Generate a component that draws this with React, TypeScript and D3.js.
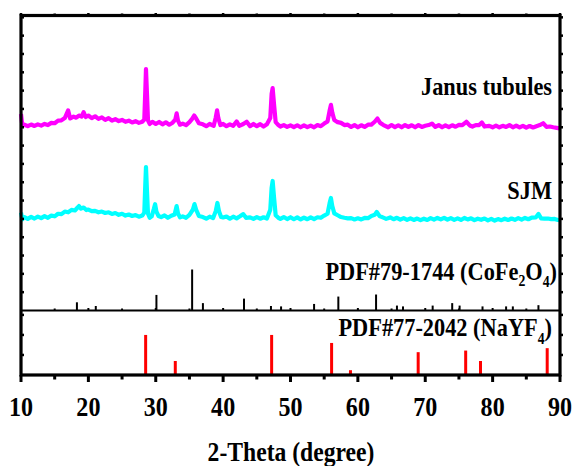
import React from 'react';
import * as d3 from 'd3';

// 2-theta, counts (Janus tubules sample)
const janusData: [number, number][] = [
  [10.0, 172], [10.2, 108], [10.5, 114], [11, 106], [11.5, 115], [12, 107], [12.5, 116], [13, 109], [13.5, 118], [14, 112],
  [14.5, 124], [15, 122], [15.5, 136], [16, 138], [16.5, 150], [17.0, 192], [17.3, 148], [17.8, 158], [18.2, 152], [18.6, 164],
  [19.0, 158], [19.3, 182], [19.6, 156], [20, 164], [20.5, 150], [21, 160], [21.5, 146], [22, 154], [22.5, 140], [23, 150],
  [23.5, 136], [24, 144], [24.5, 134], [25, 140], [25.5, 130], [26, 136], [26.5, 126], [27, 133], [27.5, 124], [28, 130],
  [28.3, 142], [28.45, 300], [28.55, 418], [28.7, 280], [28.85, 138], [29.1, 118], [29.5, 130], [30, 118], [30.5, 129], [31, 116],
  [31.5, 127], [32, 114], [32.5, 125], [32.9, 142], [33.1, 176], [33.3, 136], [33.6, 114], [34, 120], [34.5, 112], [35, 128],
  [35.4, 146], [35.7, 164], [36.0, 148], [36.4, 122], [37, 116], [37.5, 106], [38, 118], [38.6, 108], [38.9, 152], [39.1, 192],
  [39.3, 148], [39.6, 112], [40, 118], [40.5, 106], [41, 116], [41.5, 108], [42, 132], [42.4, 108], [43, 118], [43.5, 130],
  [44, 106], [44.5, 118], [45, 106], [45.5, 117], [46, 104], [46.5, 116], [47.0, 150], [47.2, 282], [47.35, 314], [47.55, 228],
  [47.8, 128], [48.2, 112], [48.5, 104], [49, 112], [49.5, 102], [50, 110], [50.5, 101], [51, 111], [51.5, 100], [52, 110],
  [52.5, 101], [53, 109], [53.5, 100], [54, 112], [54.5, 106], [55, 120], [55.5, 132], [55.8, 190], [56.0, 222], [56.2, 180],
  [56.5, 140], [57, 128], [57.5, 124], [58, 112], [58.5, 114], [59, 102], [59.5, 112], [60, 100], [60.5, 111], [61, 102],
  [61.5, 114], [62, 114], [62.5, 130], [62.9, 148], [63.3, 124], [63.8, 112], [64.5, 100], [65, 112], [65.5, 101], [66, 111],
  [66.5, 100], [67, 112], [67.5, 102], [68, 111], [68.5, 100], [69, 112], [69.5, 102], [70, 108], [70.5, 112], [71, 120],
  [71.5, 102], [72, 112], [72.5, 100], [73, 110], [73.5, 101], [74, 111], [74.5, 103], [75, 113], [75.5, 112], [76.1, 130],
  [76.6, 110], [77, 104], [77.5, 112], [78, 112], [78.4, 126], [78.8, 104], [79.5, 108], [80, 100], [80.5, 109], [81, 100],
  [81.5, 108], [82, 102], [82.5, 112], [83, 100], [83.5, 109], [84, 99], [84.5, 108], [85, 98], [85.5, 107], [86, 99],
  [86.5, 106], [87, 112], [87.5, 122], [88, 102], [88.5, 104], [89, 100], [89.5, 97], [90, 94],
];

// 2-theta, counts (SJM sample)
const sjmData: [number, number][] = [
  [10.0, 134], [10.2, 98], [10.5, 110], [11, 100], [11.5, 111], [12, 102], [12.5, 112], [13, 104], [13.5, 115], [14, 106],
  [14.5, 118], [15, 114], [15.5, 128], [16, 126], [16.5, 140], [17, 136], [17.5, 149], [18, 146], [18.3, 158], [18.6, 170],
  [18.9, 156], [19.3, 162], [19.7, 148], [20, 151], [20.5, 142], [21, 144], [21.5, 136], [22, 140], [22.5, 132], [23, 136],
  [23.5, 127], [24, 132], [24.5, 122], [25, 128], [25.5, 118], [26, 124], [26.5, 116], [27, 121], [27.5, 112], [28, 118],
  [28.3, 134], [28.45, 290], [28.55, 383], [28.7, 250], [28.85, 128], [29.1, 106], [29.4, 114], [29.7, 152], [29.9, 180], [30.1, 140],
  [30.4, 116], [30.8, 110], [31.3, 119], [31.8, 106], [32.3, 117], [32.8, 124], [33.1, 170], [33.3, 130], [33.6, 108], [34, 114],
  [34.5, 106], [35, 122], [35.5, 150], [35.75, 181], [36.0, 150], [36.4, 116], [37, 110], [37.5, 101], [38, 112], [38.5, 104],
  [38.9, 142], [39.15, 187], [39.4, 140], [39.7, 110], [40, 108], [40.5, 113], [41, 101], [41.5, 112], [42, 103], [42.5, 114],
  [43, 126], [43.4, 106], [44, 108], [44.5, 100], [45, 110], [45.5, 101], [46, 109], [46.5, 102], [47.0, 150], [47.2, 270],
  [47.35, 307], [47.55, 220], [47.8, 120], [48.2, 106], [48.5, 100], [49, 110], [49.5, 99], [50, 109], [50.5, 98], [51, 108],
  [51.5, 97], [52, 107], [52.5, 98], [53, 108], [53.5, 99], [54, 109], [54.5, 106], [55, 118], [55.5, 128], [55.8, 185],
  [56.0, 214], [56.2, 170], [56.5, 130], [57, 120], [57.5, 110], [58, 106], [58.5, 103], [59, 104], [59.5, 97], [60, 103],
  [60.5, 97], [61, 105], [61.5, 104], [62, 116], [62.5, 122], [62.8, 138], [63.2, 116], [63.7, 108], [64.2, 100], [64.8, 108],
  [65.3, 98], [65.8, 106], [66.3, 96], [66.8, 104], [67.3, 95], [67.8, 103], [68.3, 94], [68.8, 102], [69.3, 93], [69.8, 101],
  [70.3, 94], [70.8, 104], [71.3, 96], [71.8, 105], [72.3, 97], [72.8, 106], [73.3, 96], [73.8, 104], [74.3, 95], [74.8, 103],
  [75.3, 94], [75.8, 105], [76.3, 97], [76.8, 103], [77.3, 93], [77.8, 101], [78.3, 95], [78.8, 102], [79.3, 92], [79.8, 100],
  [80.3, 91], [80.8, 99], [81.3, 93], [81.8, 101], [82.3, 94], [82.8, 102], [83.3, 95], [83.8, 104], [84.3, 96], [84.8, 105],
  [85.3, 98], [85.8, 107], [86.4, 108], [86.8, 127], [87.2, 103], [87.7, 101], [88.2, 102], [88.7, 99], [89.2, 100], [89.7, 94],
  [90, 93],
];

// stacking offsets used in the plot (counts)
const janusOffset = 900;
const sjmOffset = 400;

// standard card: 2-theta, relative intensity
const cofePeaks: [number, number][] = [
  [18.3, 20], [21.1, 11], [30.1, 38], [35.4, 100], [37.0, 18], [43.1, 29], [47.1, 11], [48.6, 10], [53.5, 16],
  [57.1, 34], [62.7, 39], [65.8, 12], [66.7, 10], [71.1, 12], [74.0, 18], [75.1, 12], [78.5, 10], [82.0, 10],
  [83.0, 10], [86.8, 13],
];
const nayfPeaks: [number, number][] = [
  [28.5, 100], [32.9, 35], [47.2, 100], [56.1, 80], [58.9, 12], [68.95, 57], [76.0, 61], [78.2, 35], [88.1, 67],
];

const xTicks = [10, 20, 30, 40, 50, 60, 70, 80, 90];
const xMinorTicks = [15, 25, 35, 45, 55, 65, 75, 85];
const topYTicks = d3.range(100, 1700, 100);
const bottomYTicks = [50, 100, 150];

const FONT = "'Times New Roman', 'Liberation Serif', serif";
const SQ = 0.86; // horizontal squeeze of the original typesetting

export default function App() {
  const left = 21, right = 560, top = 15.5, split = 310.5, bottom = 375;

  const x = d3.scaleLinear().domain([10, 90]).range([left, right]);
  const yTop = d3.scaleLinear().domain([0, 1610]).range([split, top]);
  const yBottom = d3.scaleLinear().domain([0, 161]).range([bottom, split]);
  const yCard = d3.scaleLinear().domain([0, 100]).range([split, split - 41]);

  const line = (offset: number) =>
    d3.line<[number, number]>()
      .x(d => x(d[0]))
      .y(d => yTop(d[1] + offset));

  const label = (tx: number, ty: number, size: number, anchor: string, content: React.ReactNode) => (
    <text
      transform={`translate(${tx},${ty}) scale(${SQ},1)`}
      textAnchor={anchor}
      fontFamily={FONT}
      fontWeight="bold"
      fontSize={size}
      fill="#000"
    >
      {content}
    </text>
  );

  return (
    <svg width={574} height={466} style={{ position: 'absolute', left: 0, top: 0, background: '#fff' }}>
      {/* spectra */}
      <path d={line(janusOffset)(janusData) || ''} fill="none" stroke="#ff00ff" strokeWidth={4.2} strokeLinejoin="round" />
      <path d={line(sjmOffset)(sjmData) || ''} fill="none" stroke="#00ffff" strokeWidth={4.2} strokeLinejoin="round" />

      {/* CoFe2O4 card */}
      {cofePeaks.map((p, i) => (
        <line key={'c' + i} x1={x(p[0])} x2={x(p[0])} y1={split} y2={yCard(p[1])} stroke="#000" strokeWidth={2} />
      ))}
      {/* NaYF4 card */}
      {nayfPeaks.map((p, i) => (
        <line key={'n' + i} x1={x(p[0])} x2={x(p[0])} y1={bottom} y2={yBottom(p[1])} stroke="#ff0000" strokeWidth={3} />
      ))}

      {/* frame */}
      <line x1={left} x2={right} y1={split} y2={split} stroke="#000" strokeWidth={2} />
      <rect x={left} y={top} width={right - left} height={bottom - top} fill="none" stroke="#000" strokeWidth={3.2} />

      {/* y ticks */}
      {topYTicks.map(t => (
        <g key={'yt' + t}>
          <line x1={left} x2={left + 3} y1={yTop(t)} y2={yTop(t)} stroke="#000" strokeWidth={2.5} />
          <line x1={right} x2={right + 3} y1={yTop(t)} y2={yTop(t)} stroke="#000" strokeWidth={2.5} />
        </g>
      ))}
      {bottomYTicks.map(t => (
        <g key={'yb' + t}>
          <line x1={left} x2={left + 3} y1={yBottom(t)} y2={yBottom(t)} stroke="#000" strokeWidth={2.5} />
          <line x1={right} x2={right + 3} y1={yBottom(t)} y2={yBottom(t)} stroke="#000" strokeWidth={2.5} />
        </g>
      ))}

      {/* x ticks */}
      {xTicks.map(t => (
        <g key={'xt' + t}>
          <line x1={x(t)} x2={x(t)} y1={bottom} y2={bottom + 7} stroke="#000" strokeWidth={3} />
          <line x1={x(t)} x2={x(t)} y1={top} y2={top - 2.5} stroke="#000" strokeWidth={2.5} />
          <line x1={x(t)} x2={x(t)} y1={split} y2={split - 2.5} stroke="#000" strokeWidth={2} />
        </g>
      ))}
      {xMinorTicks.map(t => (
        <g key={'xm' + t}>
          <line x1={x(t)} x2={x(t)} y1={bottom} y2={bottom + 4.5} stroke="#000" strokeWidth={3} />
          <line x1={x(t)} x2={x(t)} y1={top} y2={top - 2} stroke="#000" strokeWidth={2.5} />
          <line x1={x(t)} x2={x(t)} y1={split} y2={split - 2} stroke="#000" strokeWidth={2} />
        </g>
      ))}
      {xTicks.map(t => (
        <g key={'xl' + t}>{label(x(t), 416, 28, 'middle', String(t))}</g>
      ))}

      {/* labels */}
      {label(552, 95, 26, 'end', 'Janus tubules')}
      {label(552, 199, 26, 'end', 'SJM')}
      {label(557, 280, 26, 'end', (
        <>
          PDF#79-1744 (CoFe<tspan fontSize={16} dy={6}>2</tspan><tspan dy={-6}>O</tspan>
          <tspan fontSize={16} dy={7}>4</tspan><tspan dy={-7}>)</tspan>
        </>
      ))}
      {label(552, 336, 26, 'end', (
        <>
          PDF#77-2042 (NaYF<tspan fontSize={16} dy={8}>4</tspan><tspan dy={-8}>)</tspan>
        </>
      ))}
      {label(291, 461, 27.5, 'middle', '2-Theta (degree)')}
    </svg>
  );
}
